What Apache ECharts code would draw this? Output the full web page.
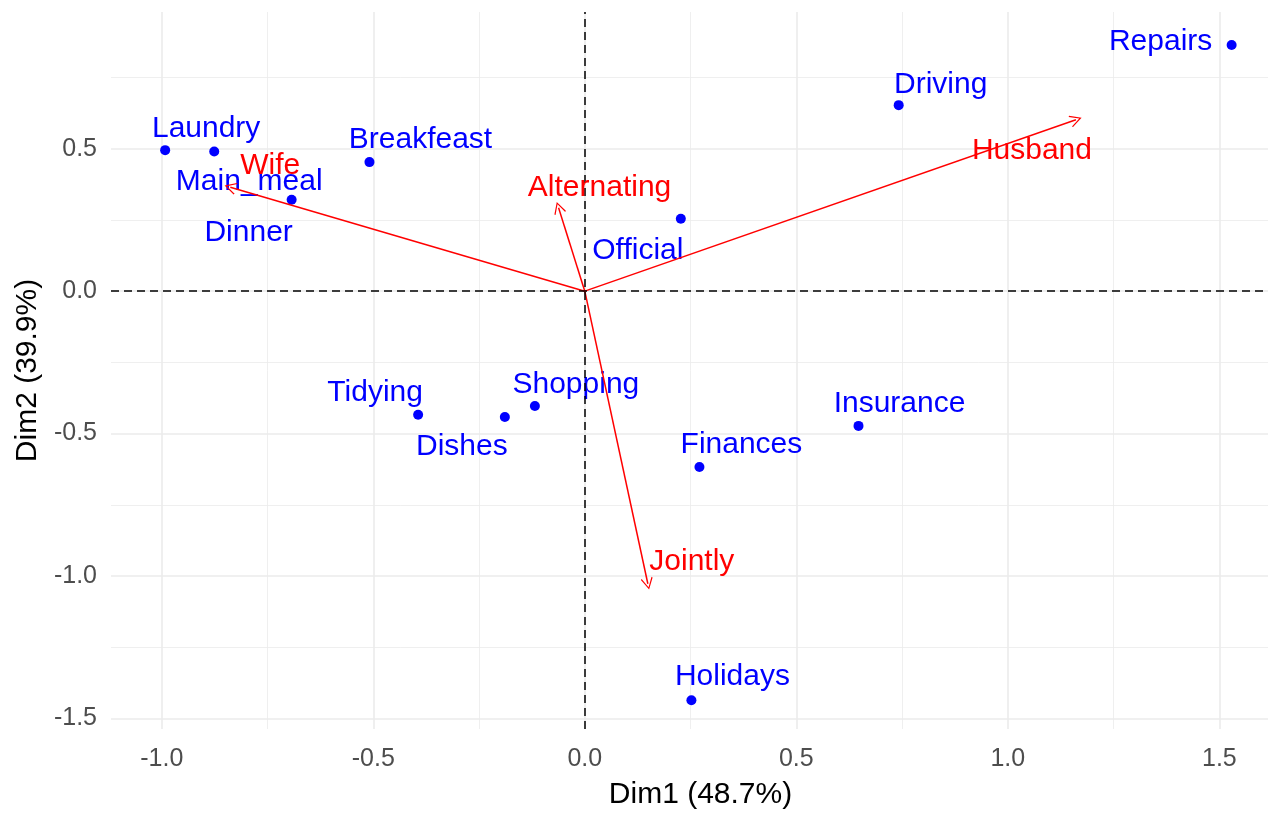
<!DOCTYPE html>
<html>
<head>
<meta charset="utf-8">
<title>CA biplot</title>
<script src="https://cdn.jsdelivr.net/npm/echarts@6/dist/echarts.min.js"></script>
<style>
  html, body { margin: 0; padding: 0; background: #fff; }
  #chart { width: 1268px; height: 815px; }
</style>
</head>
<body>
<div id="chart"></div>
<script>
// row points (tasks)
const rowNames = ['Laundry', 'Main_meal', 'Dinner', 'Breakfeast', 'Tidying', 'Dishes', 'Shopping',
  'Official', 'Driving', 'Finances', 'Insurance', 'Repairs', 'Holidays']
const rowDim1 = [-0.992, -0.876, -0.693, -0.509, -0.394, -0.189, -0.118, 0.227, 0.742, 0.271, 0.647, 1.529, 0.252]
const rowDim2 = [0.495, 0.490, 0.321, 0.453, -0.434, -0.442, -0.403, 0.254, 0.653, -0.617, -0.473, 0.864, -1.436]

// column points (who does it), drawn as arrows
const colNames = ['Wife', 'Alternating', 'Husband', 'Jointly']
const colDim1 = [-0.838, -0.062, 1.161, 0.149]
const colDim2 = [0.365, 0.293, 0.602, -1.027]

// tick values
const xMajor = [-1.0, -0.5, 0.0, 0.5, 1.0, 1.5]
const xMinor = [-0.75, -0.25, 0.25, 0.75, 1.25]
const yMajor = [-1.5, -1.0, -0.5, 0.0, 0.5]
const yMinor = [-1.25, -0.75, -0.25, 0.25, 0.75]

// label nudges in px (repel-like placement)
const labelShift = {
  Laundry: [41, -21], Main_meal: [35, 30], Dinner: [-43, 33], Breakfeast: [51, -22],
  Tidying: [-43, -22], Dishes: [-43, 30], Shopping: [41, -21], Official: [-43, 32],
  Driving: [42, -20], Finances: [42, -22], Insurance: [41, -22], Repairs: [-71, -3],
  Holidays: [41, -23],
  Wife: [40, -21], Alternating: [41, -20], Husband: [-44, 31], Jointly: [44, -22]
}

const xRange = [-1.12, 1.615]
const yRange = [-1.537, 0.98]
const font = '"Liberation Sans", Arial, sans-serif'
const chevron = 'path://M10,0 L20,16 L18.4,17.2 L10,3.6 L1.6,17.2 L0,16 Z'

let myChart = echarts.init(document.getElementById('chart'))

function gridAxis (range, values, width, extra) {
  return Object.assign({
    type: 'value',
    min: range[0],
    max: range[1],
    axisLine: { show: false },
    axisTick: { show: false, customValues: values },
    axisLabel: { show: false },
    splitLine: { show: true, lineStyle: { color: '#ebebeb', width: width } }
  }, extra || {})
}

function tickLabel (values, margin) {
  return {
    show: true,
    customValues: values,
    color: '#4d4d4d',
    fontSize: 25,
    fontFamily: font,
    margin: margin,
    formatter: function (v) { return v.toFixed(1) }
  }
}

let option = {
  animation: false,
  backgroundColor: '#ffffff',
  grid: { left: 111, right: 0, top: 12, bottom: 83, containLabel: false },
  xAxis: [
    gridAxis(xRange, xMajor, 1.6, {
      name: 'Dim1 (48.7%)',
      nameLocation: 'middle',
      nameGap: 51,
      nameTextStyle: { color: '#000', fontSize: 30, fontFamily: font, padding: [0, 0, 0, 22] },
      axisLabel: tickLabel(xMajor, 18)
    }),
    gridAxis(xRange, xMinor, 0.8)
  ],
  yAxis: [
    gridAxis(yRange, yMajor, 1.6, {
      name: 'Dim2 (39.9%)',
      nameLocation: 'middle',
      nameGap: 58,
      nameTextStyle: { color: '#000', fontSize: 30, fontFamily: font },
      axisLabel: tickLabel(yMajor, 14)
    }),
    gridAxis(yRange, yMinor, 0.8)
  ],
  series: [
    {
      name: 'zero',
      type: 'scatter',
      data: [],
      z: 1,
      markLine: {
        silent: true,
        symbol: ['none', 'none'],
        label: { show: false },
        lineStyle: { color: '#000', width: 1.5, type: [8, 5], opacity: 1 },
        data: [{ xAxis: 0 }, { yAxis: 0 }]
      }
    },
    {
      name: 'rows',
      type: 'scatter',
      z: 3,
      symbol: 'circle',
      symbolSize: 10,
      itemStyle: { color: '#0000ff', opacity: 1 },
      label: {
        show: true,
        position: 'inside',
        color: '#0000ff',
        fontSize: 30,
        fontFamily: font,
        formatter: function (p) { return p.name }
      },
      data: rowNames.map(function (n, i) {
        return { name: n, value: [rowDim1[i], rowDim2[i]], label: { offset: labelShift[n] } }
      })
    },
    {
      name: 'arrows',
      type: 'lines',
      coordinateSystem: 'cartesian2d',
      z: 4,
      symbol: ['none', chevron],
      symbolSize: [0, 12],
      lineStyle: { color: '#ff0000', width: 1.5, opacity: 1 },
      data: colNames.map(function (n, i) {
        return { name: n, coords: [[0, 0], [colDim1[i], colDim2[i]]] }
      })
    },
    {
      name: 'cols',
      type: 'scatter',
      z: 5,
      symbolSize: 0.1,
      itemStyle: { color: 'rgba(0,0,0,0)', opacity: 1 },
      label: {
        show: true,
        position: 'inside',
        color: '#ff0000',
        fontSize: 30,
        fontFamily: font,
        formatter: function (p) { return p.name }
      },
      data: colNames.map(function (n, i) {
        return { name: n, value: [colDim1[i], colDim2[i]], label: { offset: labelShift[n] } }
      })
    }
  ]
}

myChart.setOption(option)
window.addEventListener('resize', function () {
  myChart.resize()
})
</script>
</body>
</html>
